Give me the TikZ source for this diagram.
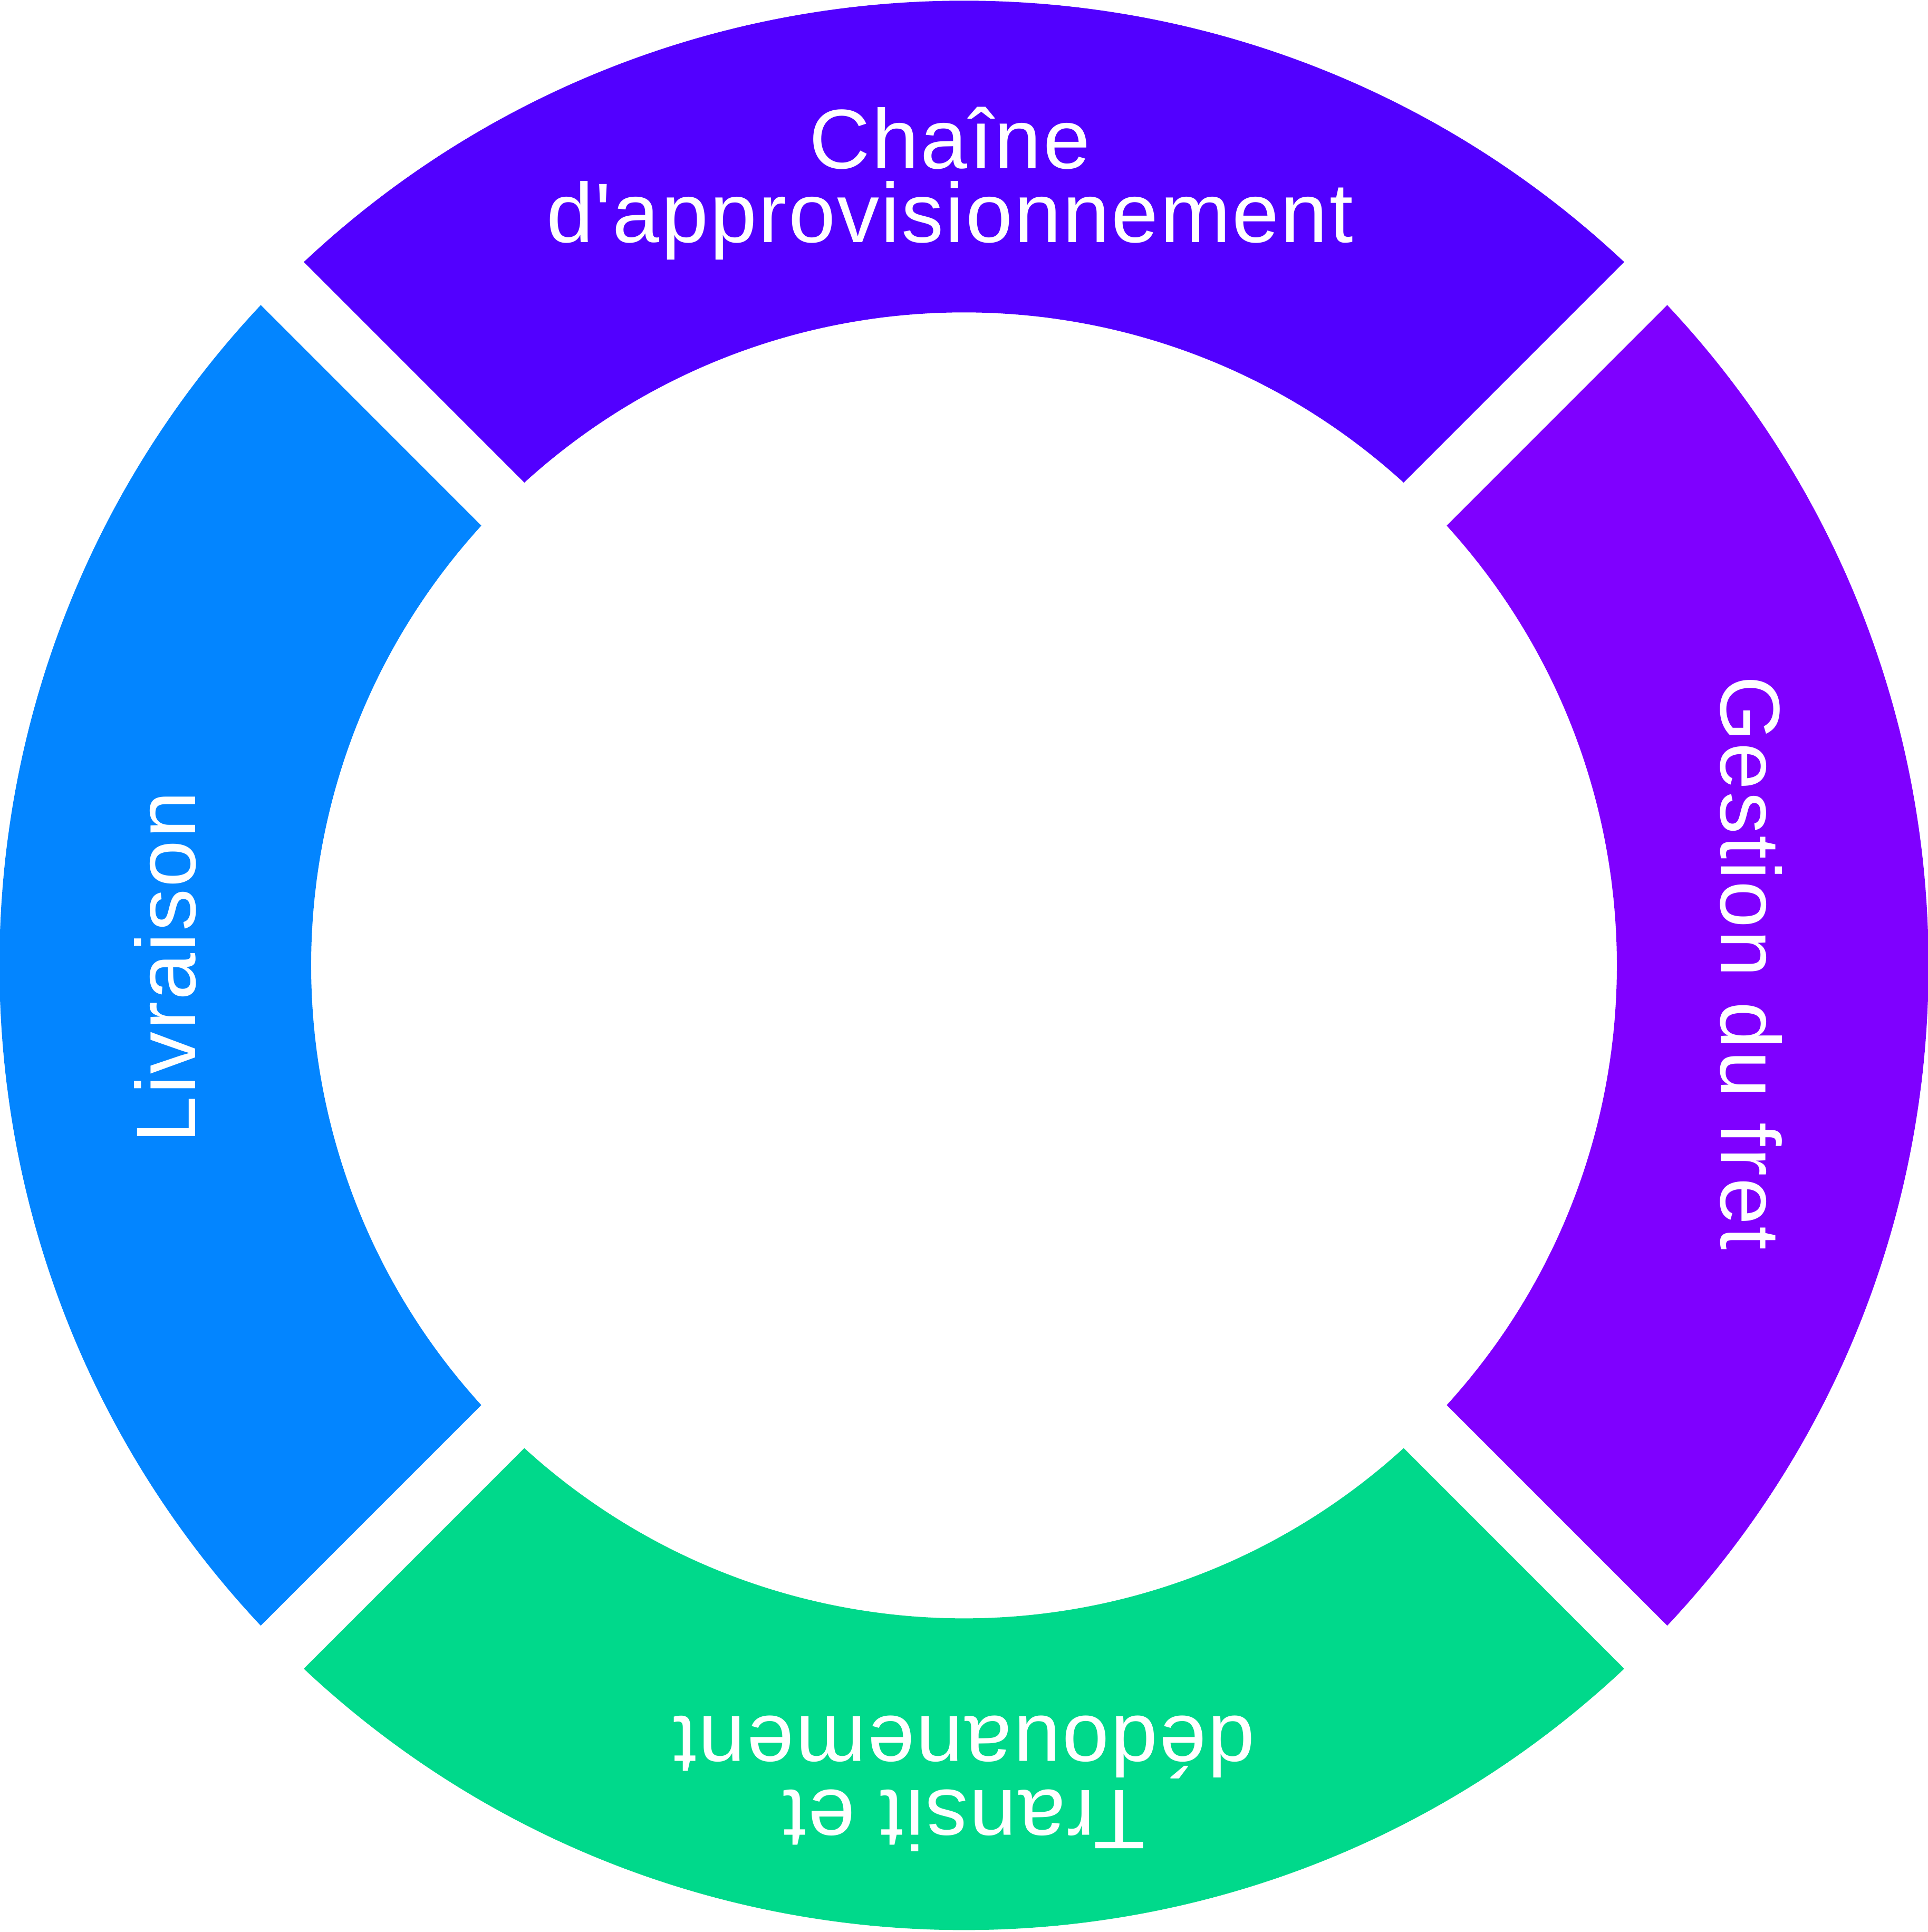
\documentclass[tikz,border=0pt]{standalone}
\usepackage{fontspec}
\newfontfamily\labelfont[Ligatures=TeXOff, LetterSpace=2.0]{Liberation Sans}
\usepackage{tikz}
\usetikzlibrary{positioning, calc}
\definecolor{ChainViolet}{HTML}{5200FF}
\definecolor{FretPurple}{HTML}{7F00FF}
\definecolor{TransitGreen}{HTML}{00D98B}
\definecolor{LivBlue}{HTML}{0385FF}

\begin{document}
\begin{tikzpicture}
  \tikzset{
    seglabel/.style={text=white, inner sep=0pt, align=center,
                     font=\labelfont\fontsize{19.5}{17}\selectfont}
  }
  \useasboundingbox (-7.825,-7.845) rectangle (7.825,7.835);
  % ring radii and half gap (cm)
  \pgfmathsetmacro{\Rout}{7.83}
  \pgfmathsetmacro{\Rin}{5.30}
  \pgfmathsetmacro{\gapA}{asin(0.247/\Rout)}
  \pgfmathsetmacro{\gapB}{asin(0.247/\Rin)}
  % four ring segments
  \foreach \col/\mid in {ChainViolet/90, FretPurple/0, TransitGreen/-90, LivBlue/180}{
    \fill[\col] (\mid-45+\gapA:\Rout)
      arc[start angle=\mid-45+\gapA, end angle=\mid+45-\gapA, radius=\Rout]
      -- (\mid+45-\gapB:\Rin)
      arc[start angle=\mid+45-\gapB, end angle=\mid-45+\gapB, radius=\Rin]
      -- cycle;
  }
  % labels
  \node[seglabel] (chaine) at (-0.115,6.345) {Chaîne\\d'approvisionnement};
  \node[seglabel, rotate=-90] (fret) at (6.39,0.02) {Gestion du fret};
  \node[seglabel, rotate=180] (transit) at (0,-6.64) {Transit et\\dédouanement};
  \node[seglabel, rotate=90] (livraison) at (-6.485,-0.015) {Livraison};
\end{tikzpicture}
\end{document}
